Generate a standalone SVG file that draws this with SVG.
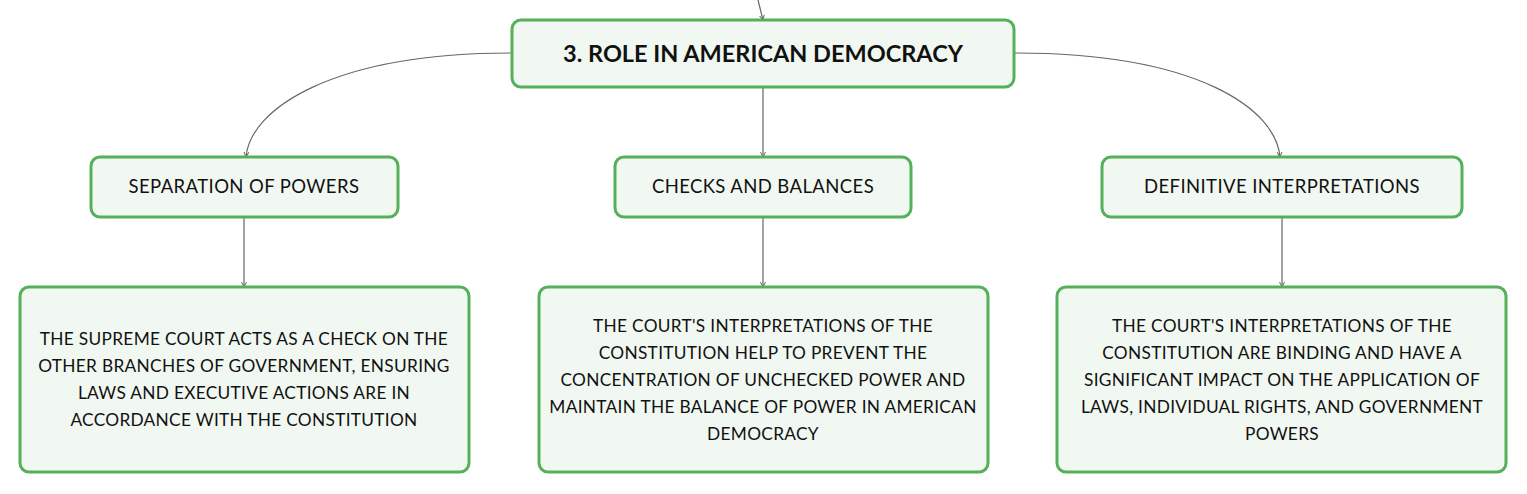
<svg xmlns="http://www.w3.org/2000/svg" width="1527" height="494" viewBox="0 0 1527 494">
<style>
.box{fill:#f1f8f2;stroke:#55b05a;stroke-width:3}
.t{font-family:Lato,"Open Sans","Liberation Sans",sans-serif;fill:#111;text-anchor:middle}
.root{font-size:23.5px;font-weight:700}
.sub{font-size:18.5px;letter-spacing:0.4px}
.leaf{font-size:17.3px;letter-spacing:0.3px}
.c{fill:none;stroke:#666;stroke-width:1.2}
</style>
<defs>
<marker id="a" viewBox="0 0 6 6" refX="5" refY="3" markerWidth="5" markerHeight="5" orient="auto">
<path d="M0,0.5 L5,3 L0,5.5" fill="none" stroke="#666" stroke-width="1"/>
</marker>
</defs>
<g id="connectors">
<path class="c" d="M758,0 L763,20" marker-end="url(#a)"/>
<path class="c" d="M512,53 C330,53 250,110 246,157" marker-end="url(#a)"/>
<path class="c" d="M763,87 L763,157" marker-end="url(#a)"/>
<path class="c" d="M1014,53 C1200,53 1276,110 1280,157" marker-end="url(#a)"/>
<path class="c" d="M244,217 L244,287" marker-end="url(#a)"/>
<path class="c" d="M763,217 L763,287" marker-end="url(#a)"/>
<path class="c" d="M1282,217 L1282,287" marker-end="url(#a)"/>
</g>
<g id="root">
<rect class="box" x="512" y="20" width="502" height="67" rx="9"/>
<text class="t root" x="763" y="62">3. ROLE IN AMERICAN DEMOCRACY</text>
</g>
<g id="separation">
<rect class="box" x="91" y="157" width="307" height="60" rx="9"/>
<text class="t sub" x="244" y="193">SEPARATION OF POWERS</text>
</g>
<g id="checks">
<rect class="box" x="615" y="157" width="296" height="60" rx="9"/>
<text class="t sub" x="763" y="193">CHECKS AND BALANCES</text>
</g>
<g id="definitive">
<rect class="box" x="1102" y="157" width="360" height="60" rx="9"/>
<text class="t sub" x="1282" y="193">DEFINITIVE INTERPRETATIONS</text>
</g>
<g id="leaf1">
<rect class="box" x="20" y="287" width="449" height="185" rx="9"/>
<text class="t leaf" x="244"><tspan x="244" y="345">THE SUPREME COURT ACTS AS A CHECK ON THE</tspan><tspan x="244" y="372">OTHER BRANCHES OF GOVERNMENT, ENSURING</tspan><tspan x="244" y="399">LAWS AND EXECUTIVE ACTIONS ARE IN</tspan><tspan x="244" y="426">ACCORDANCE WITH THE CONSTITUTION</tspan></text>
</g>
<g id="leaf2">
<rect class="box" x="539" y="287" width="449" height="185" rx="9"/>
<text class="t leaf" x="763"><tspan x="763" y="332">THE COURT'S INTERPRETATIONS OF THE</tspan><tspan x="763" y="359">CONSTITUTION HELP TO PREVENT THE</tspan><tspan x="763" y="386">CONCENTRATION OF UNCHECKED POWER AND</tspan><tspan x="763" y="413">MAINTAIN THE BALANCE OF POWER IN AMERICAN</tspan><tspan x="763" y="440">DEMOCRACY</tspan></text>
</g>
<g id="leaf3">
<rect class="box" x="1057" y="287" width="449" height="185" rx="9"/>
<text class="t leaf" x="1282"><tspan x="1282" y="332">THE COURT'S INTERPRETATIONS OF THE</tspan><tspan x="1282" y="359">CONSTITUTION ARE BINDING AND HAVE A</tspan><tspan x="1282" y="386">SIGNIFICANT IMPACT ON THE APPLICATION OF</tspan><tspan x="1282" y="413">LAWS, INDIVIDUAL RIGHTS, AND GOVERNMENT</tspan><tspan x="1282" y="440">POWERS</tspan></text>
</g>
</svg>
